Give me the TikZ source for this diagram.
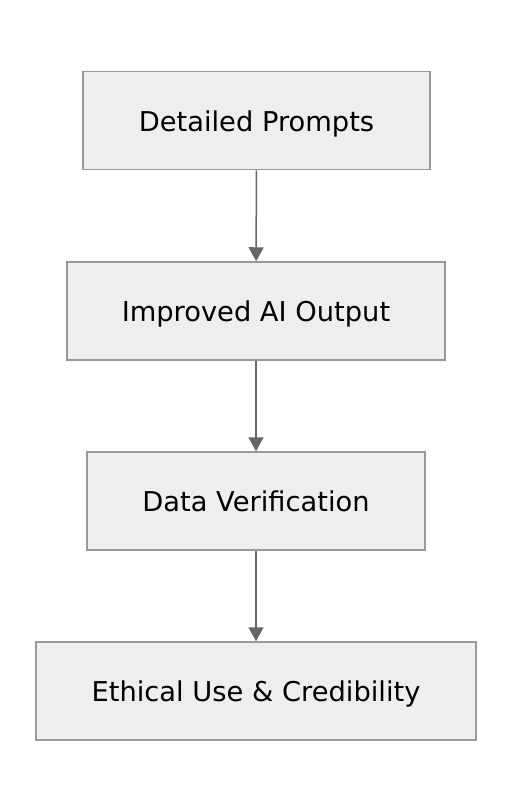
\documentclass[tikz,border=0pt]{standalone}
\usepackage{fontspec}
\setmainfont{DejaVu Sans}
\usepackage{tikz}
\usetikzlibrary{arrows.meta}
\usepackage{xcolor}
\definecolor{ColA}{RGB}{153,153,153}
\definecolor{ColB}{RGB}{238,238,238}
\definecolor{ColC}{RGB}{102,102,102}
\tikzstyle{NodeFlow}=[rectangle,draw=ColA,fill=ColB,line width=1.5pt,minimum height=98pt,
inner sep=0pt,text height=21pt,text depth=0pt,font=\fontsize{27.3}{32}\selectfont]
\tikzstyle{EdgeFlow}=[ColC,line width=1.5pt,-{Triangle[length=14pt,width=15pt]}]
\begin{document}
\begin{tikzpicture}[x=1pt,y=-1pt]
        \useasboundingbox[fill=white](0,0)rectangle(512,812);
        \node[NodeFlow,minimum width=347pt](prompts)at(256.5,120.5){Detailed Prompts};
        \node[NodeFlow,minimum width=378pt](output)at(256,311){Improved AI Output};
        \node[NodeFlow,minimum width=338pt](verify)at(256,501){Data Verification};
        \node[NodeFlow,minimum width=440pt](ethics)at(256,691){Ethical Use \& Credibility};
        \draw[EdgeFlow](prompts)--(output);
        \draw[EdgeFlow](output)--(verify);
        \draw[EdgeFlow](verify)--(ethics);
    \end{tikzpicture}
\end{document}
